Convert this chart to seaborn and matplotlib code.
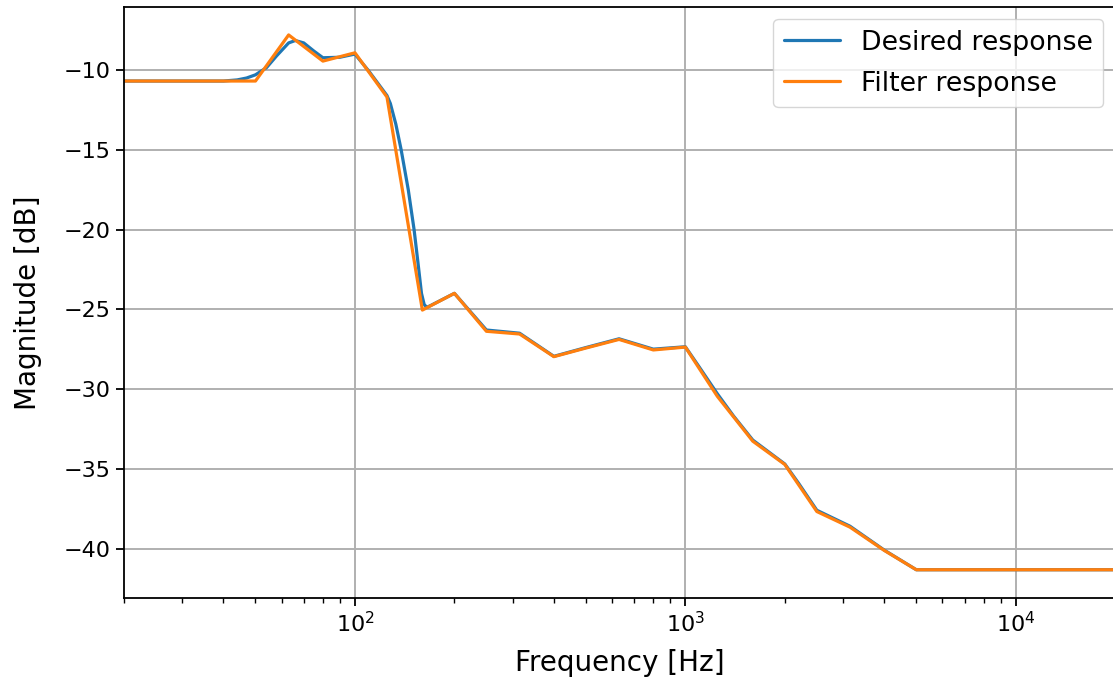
import numpy as np
import pandas as pd
import seaborn as sns
import matplotlib
matplotlib.use("Agg")
import matplotlib.pyplot as plt

# Filter response (third-octave points)
filt_freq = [20, 50, 63, 80, 100, 125, 160, 200, 250, 315, 400, 500, 630, 800,
             1000, 1250, 1600, 2000, 2500, 3150, 4000, 5000, 20000]
filt_db = [-10.69, -10.69, -7.8, -9.44, -8.92, -11.69, -25.05, -24.0, -26.38, -26.55,
           -27.97, -27.43, -26.89, -27.55, -27.37, -30.46, -33.27, -34.73, -37.68,
           -38.66, -40.12, -41.33, -41.33]

# Desired response (smooth curve)
des_freq = [20, 40, 44, 47, 50, 54, 58, 63, 66, 70, 75, 80, 90, 100, 110, 118, 125,
            128, 133, 138, 145, 151, 155, 159, 162, 165, 170, 200, 250, 315, 400,
            500, 630, 800, 1000, 1100, 1250, 1400, 1600, 2000, 2200, 2500, 3150,
            4000, 5000, 20000]
des_db = [-10.69, -10.69, -10.62, -10.5, -10.3, -9.85, -9.1, -8.3, -8.15, -8.3, -8.8,
          -9.23, -9.2, -9.0, -10.05, -10.9, -11.6, -12.1, -13.4, -15.0, -17.5, -20.0,
          -22.0, -24.0, -24.7, -24.88, -24.75, -24.0, -26.3, -26.5, -27.95, -27.4,
          -26.85, -27.5, -27.35, -28.6, -30.3, -31.7, -33.2, -34.7, -35.9, -37.6,
          -38.6, -40.1, -41.33, -41.33]

df = pd.concat([
    pd.DataFrame({"freq": des_freq, "db": des_db, "series": "Desired response"}),
    pd.DataFrame({"freq": filt_freq, "db": filt_db, "series": "Filter response"}),
])

sns.set_theme(style="ticks")
plt.rcParams["font.family"] = ["DejaVu Sans"]
plt.rcParams["text.color"] = "black"
plt.rcParams["axes.labelcolor"] = "black"
plt.rcParams["xtick.color"] = "black"
plt.rcParams["ytick.color"] = "black"

fig = plt.figure(figsize=(11.13, 6.82), dpi=100)
ax = fig.add_axes([0.1114, 0.1232, 0.8886 + 0.002, 0.8665])

sns.lineplot(data=df, x="freq", y="db", hue="series", sort=False,
             palette=["#1f77b4", "#ff7f0e"], linewidth=2.3, ax=ax,
             estimator=None)

ax.set_xscale("log")
ax.set_xlim(20, 20000)
ax.set_ylim(-43.1, -6.05)
ax.set_yticks([-40, -35, -30, -25, -20, -15, -10])
ax.grid(True, which="major", color="#b0b0b0", linewidth=1.4)
ax.set_axisbelow(True)
ax.set_xlabel("Frequency [Hz]", fontsize=20, labelpad=9)
ax.set_ylabel("Magnitude [dB]", fontsize=20, labelpad=16)
ax.tick_params(axis="both", which="major", labelsize=16, length=6, width=1.3,
               color="black", labelcolor="black")
ax.tick_params(axis="x", which="minor", length=3.5, width=1.0, color="black")
for s in ax.spines.values():
    s.set_color("black")
    s.set_linewidth(1.3)

leg = ax.legend(loc="upper right", fontsize=19.3, frameon=True, handlelength=2.1,
                borderpad=0.4, labelspacing=0.55, handletextpad=0.75,
                borderaxespad=0.45)
leg.set_title(None)
leg.get_frame().set_edgecolor("#cccccc")
leg.get_frame().set_alpha(0.8)
for line in leg.get_lines():
    line.set_linewidth(2.3)
for t in leg.get_texts():
    t.set_color("black")

fig.savefig("out.png", dpi=100)
